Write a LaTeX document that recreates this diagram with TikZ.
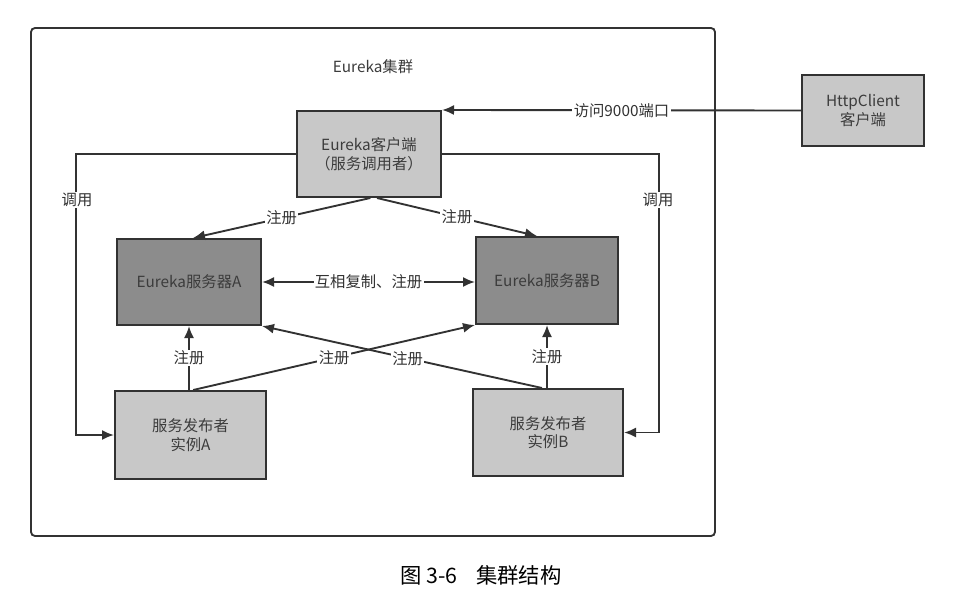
\documentclass[tikz,border=0pt]{standalone}
\usepackage{fontspec}
\setmainfont{Noto Sans CJK SC}
\usetikzlibrary{arrows.meta,calc}
\definecolor{lightbox}{RGB}{200,200,200}
\definecolor{darkbox}{RGB}{140,140,140}
\definecolor{ink}{RGB}{50,50,50}
\definecolor{txt}{RGB}{60,60,60}
\begin{document}
\begin{tikzpicture}[x=0.75pt,y=-0.75pt,
  every node/.style={font=\fontsize{11.5pt}{14pt}\selectfont, text=txt},
  lbox/.style={draw=ink, line width=1.5pt, fill=lightbox, align=center, inner sep=0pt},
  dbox/.style={draw=ink, line width=1.5pt, fill=darkbox, align=center, inner sep=0pt},
  conn/.style={draw=ink, line width=1.4pt},
  arr/.style={conn, -{Latex[length=9pt,width=7.5pt]}},
  darr/.style={conn, {Latex[length=9pt,width=7.5pt]}-{Latex[length=9pt,width=7.5pt]}},
  lbl/.style={fill=white, inner sep=1pt, text=ink}
]
\useasboundingbox (0,0) rectangle (961,606);
\fill[white] (0,0) rectangle (961,606);

% outer frame
\draw[conn, rounded corners=3pt] (31,28) rectangle (715,536);
\node (title) at (373,67) {Eureka集群};

% nodes
\node[lbox, minimum width=108pt, minimum height=64.5pt] (client) at (369,154) {Eureka客户端\\（服务调用者）};
\node[lbox, minimum width=91.5pt, minimum height=53.25pt] (http) at (863,110.5) {HttpClient\\客户端};
\node[dbox, minimum width=108pt, minimum height=64.5pt] (srvA) at (189,282) {Eureka服务器A};
\node[dbox, minimum width=106.5pt, minimum height=65.25pt] (srvB) at (547,280.5) {Eureka服务器B};
\node[lbox, minimum width=113.25pt, minimum height=66pt] (pubA) at (190.5,435) {服务发布者\\实例A};
\node[lbox, minimum width=112.5pt, minimum height=65.25pt] (pubB) at (548,432.5) {服务发布者\\实例B};

% connectors
\draw[arr] (http.west) -- node[lbl] {访问9000端口} (client.north east);

\draw[arr] (client.west) -| ($(pubA.west)+(-38,0)$) -- (pubA.west);
\node[lbl] (callL) at (77,200) {调用};
\draw[arr] (client.east) -| ($(pubB.east)+(35,0)$) -- (pubB.east);
\node[lbl] (callR) at (658,200) {调用};

\draw[arr] ([xshift=1pt]client.south) -- node[lbl] {注册} ([xshift=3pt]srvA.north);
\draw[arr] ([xshift=6pt]client.south) -- node[lbl] {注册} ([xshift=-7.5pt]srvB.north);

\draw[darr] (srvA.east) -- node[lbl] {互相复制、注册} (srvB.west |- srvA.east);

\draw[arr] (srvA.south |- pubA.north) -- node[lbl] {注册} (srvA.south);
\draw[arr] ([xshift=2pt]pubA.north) -- node[lbl, pos=0.5] {注册} (srvB.south west);
\draw[arr] ([xshift=-4.5pt]pubB.north) -- node[lbl, pos=0.48] {注册} (srvA.south east);
\draw[arr] (srvB.south |- pubB.north) -- node[lbl] {注册} (srvB.south);

% caption
\node[font=\fontsize{16pt}{19pt}\selectfont, text=black] (cap) at (481,575) {图 3-6\hspace{14pt}集群结构};
\end{tikzpicture}
\end{document}
